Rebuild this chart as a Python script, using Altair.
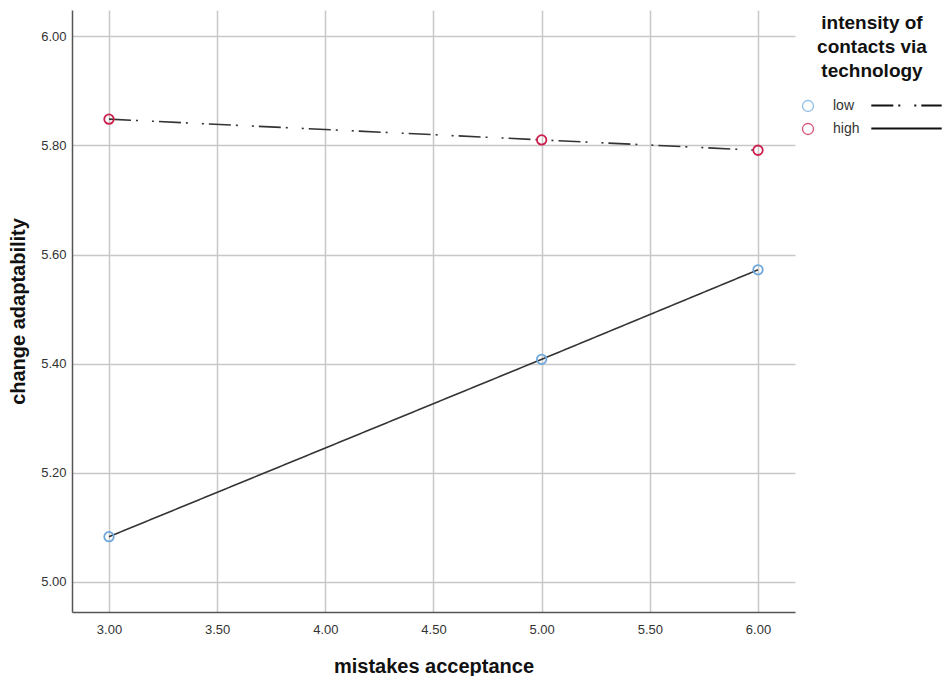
import altair as alt
import pandas as pd

# data
x_vals = [3.0, 5.0, 6.0]
high_vals = [5.848, 5.810, 5.791]   # red markers, dash-dot line
low_vals = [5.083, 5.408, 5.572]    # blue markers, solid line
marker_groups = ["high", "low"]
line_groups = ["low", "high"]       # as drawn in the reference (SPSS style)
x_ticks = [3.0, 3.5, 4.0, 4.5, 5.0, 5.5, 6.0]
y_ticks = [5.0, 5.2, 5.4, 5.6, 5.8, 6.0]
legend_title = ["intensity of", "contacts via", "technology"]

rows = []
for series, mg, lg in zip([high_vals, low_vals], marker_groups, line_groups):
    for xv, yv in zip(x_vals, series):
        rows.append({"x": xv, "y": yv, "marker": mg, "line": lg})
df = pd.DataFrame(rows)

FONT = "Liberation Sans"

xscale = alt.Scale(domain=[2.829, 6.171], nice=False, zero=False)
yscale = alt.Scale(domain=[4.945, 6.048], nice=False, zero=False)

xenc = alt.X("x:Q", scale=xscale,
             axis=alt.Axis(values=x_ticks, format=".2f", title="mistakes acceptance",
                           ticks=False, labelPadding=11, titlePadding=20))
yenc = alt.Y("y:Q", scale=yscale,
             axis=alt.Axis(values=y_ticks, format=".2f", title="change adaptability",
                           ticks=False, labelPadding=6, titlePadding=12))

lines = alt.Chart(df).mark_line(color="#333333", strokeWidth=1.6).encode(
    x=xenc, y=yenc,
    detail="line:N",
    strokeDash=alt.StrokeDash(
        "line:N",
        scale=alt.Scale(domain=["low", "high"], range=[[22, 5, 2, 14, 2, 5], [1, 0]]),
        legend=alt.Legend(
            orient="none", legendX=828, legendY=89, title=None,
            symbolType="M-6.4,0L6.4,0", symbolSize=121, symbolStrokeWidth=2,
            symbolStrokeColor="#111111", labelExpr="''", labelFontSize=1,
            rowPadding=12,
        ),
    ),
)

points = alt.Chart(df).mark_point(shape="circle", filled=False, size=90, strokeWidth=1.8, opacity=1).encode(
    x=xenc, y=yenc,
    color=alt.Color(
        "marker:N",
        scale=alt.Scale(domain=["low", "high"], range=["#6fa8dc", "#cc1f4d"]),
        legend=alt.Legend(
            orient="none", legendX=729, legendY=89, title=None,
            labelFontSize=14, labelFont=FONT, labelColor="#333333", labelOffset=18,
            symbolType="circle", symbolSize=121, symbolStrokeWidth=1.3, symbolFillColor="white",
            symbolOpacity=0.75, rowPadding=5,
        ),
    ),
)

chart = alt.layer(lines, points).resolve_legend(color="independent", strokeDash="independent").properties(
    width=723, height=602,
    autosize=alt.AutoSizeParams(type="none"),
    padding={"left": 64, "top": 2, "right": 147, "bottom": 64},
    title=alt.TitleParams(
        legend_title, orient="top", anchor="end", frame="group", align="center", baseline="top",
        offset=0, dx=77, dy=71, fontSize=19, font=FONT, fontWeight="bold",
        color="#111111", lineHeight=24,
    ),
).configure_view(stroke=None).configure_axis(
    labelFont=FONT, labelFontSize=13, labelColor="#333333",
    titleFont=FONT, titleFontSize=20, titleFontWeight="bold", titleColor="#111111",
    gridColor="#c8c8c8", gridWidth=1.5,
    domainColor="#555555", domainWidth=1.5,
)

chart.save("out.html", embed_options={"renderer": "svg", "actions": False})
